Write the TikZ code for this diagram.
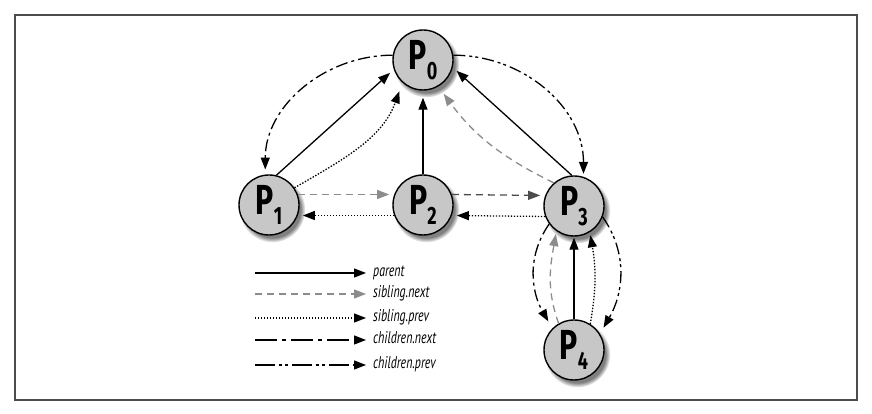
\documentclass[tikz,border=0pt]{standalone}
\usepackage{fontspec}
\usetikzlibrary{arrows.meta,shadows}
\newfontfamily\procfont{Fira Sans}[FakeStretch=0.72]
\newfontfamily\legendfont{PT Sans}[FakeStretch=0.7]
\newcommand\proclabel[1]{{\procfont\bfseries\fontsize{42}{42}\selectfont P\raisebox{-10pt}{\fontsize{25}{25}\selectfont #1}}}

\begin{document}
\begin{tikzpicture}[x=1pt,y=1pt,
  proc/.style={circle, draw=black, line width=1.4pt, fill=black!22,
    minimum size=60pt, inner sep=0pt,
    circular drop shadow={shadow xshift=3pt, shadow yshift=-4pt, shadow scale=1.1}},
  link/.style={line width=1.3pt, -{Triangle[length=12pt,width=9pt]}, shorten >=5pt},
  parentlink/.style={link},
  nextlink/.style={link, black!45, dash pattern=on 7pt off 5pt},
  prevlink/.style={link, dash pattern=on 1.4pt off 1.6pt},
  cnextlink/.style={link, dash pattern=on 12pt off 4pt on 3pt off 4pt},
  cprevlink/.style={link, dash pattern=on 12pt off 4pt on 3pt off 3pt on 3pt off 4pt},
  legendtext/.style={anchor=west, inner sep=0pt, text height=11pt, text depth=3pt,
    font=\legendfont\itshape\fontsize{17}{17}\selectfont}
]
\useasboundingbox (0,0) rectangle (872,414);
% outer frame
\draw[black!70, line width=1.1pt] (15,14) rectangle (857,399);

% processes
\node[proc] (P0) at (423,354) {\proclabel{0}};
\node[proc] (P1) at (269,209) {\proclabel{1}};
\node[proc] (P2) at (423,209) {\proclabel{2}};
\node[proc] (P3) at (574,208) {\proclabel{3}};
\node[proc] (P4) at (574,64)  {\proclabel{4}};

% parent
\draw[parentlink] (P1.76) -- (P0.198);
\draw[parentlink, shorten >=7pt] (P2.north) -- (P0.south);
\draw[parentlink] (P3.94) -- (P0.346);
\draw[parentlink, shorten >=1pt] (P4.north) -- (P3.south);

% sibling.next
\draw[nextlink] (P1.20) -- (P2.160);
\draw[nextlink, black!70] (P2.20) -- (P3.160);
\draw[nextlink, shorten >=9pt] (P3.131) to[bend left=14] (P0.300);
\draw[nextlink, shorten >=3pt] (P4.120) to[out=110, in=260] (P3.235);

% sibling.prev
\draw[prevlink] (P3.200) -- (P2.340);
\draw[prevlink] (P2.200) -- (P1.340);
\draw[prevlink, shorten >=9pt] (P1.34) to[out=30, in=250] (P0.228);
\draw[prevlink, shorten >=3pt] (P4.58) to[out=80, in=-80] (P3.301);

% children.next
\draw[cnextlink] (P0.171) to[out=180, in=90] (P1.97);
\draw[cnextlink, shorten >=8pt] (P3.216) to[out=235, in=120] (P4.135);

% children.prev
\draw[cprevlink, shorten >=3pt] (P0.9) to[out=0, in=90] (P3.72);
\draw[cprevlink, shorten >=7pt] (P3.339) to[out=-55, in=60] (P4.32);

% legend
\coordinate (L1) at (255,141);
\coordinate (L2) at (255,120);
\coordinate (L3) at (255,96);
\coordinate (L4) at (255,74);
\coordinate (L5) at (255,49);
\node[legendtext] (T1) at (373,141) {parent};
\node[legendtext] (T2) at (373,120) {sibling.next};
\node[legendtext] (T3) at (373,96) {sibling.prev};
\node[legendtext] (T4) at (373,74) {children.next};
\node[legendtext] (T5) at (373,49) {children.prev};
\draw[parentlink, shorten >=7pt] (L1) -- (T1.west);
\draw[nextlink, shorten >=7pt] (L2) -- (T2.west);
\draw[prevlink, shorten >=7pt] (L3) -- (T3.west);
\draw[cnextlink, shorten >=7pt, dash pattern=on 22pt off 5pt on 4pt off 5pt] (L4) -- (T4.west);
\draw[cprevlink, shorten >=7pt, dash pattern=on 20pt off 4pt on 3pt off 3pt on 3pt off 4pt] (L5) -- (T5.west);
\end{tikzpicture}
\end{document}
